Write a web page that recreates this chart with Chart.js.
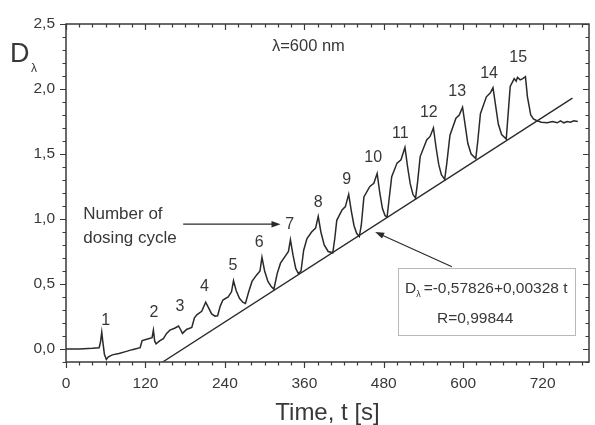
<!DOCTYPE html>
<html>
<head>
<meta charset="utf-8">
<script src="https://cdn.jsdelivr.net/npm/chart.js@4.4.1/dist/chart.umd.min.js"></script>
<style>
  html, body { margin: 0; padding: 0; background: #fff; }
  #grafico { display: block; }
</style>
</head>
<body>
<canvas id="grafico" width="595" height="425"></canvas>
<script>
// Curva medida: tiempo (s) y densidad óptica D (lambda = 600 nm)
const tiempo = [
    0, 20, 40, 50, 52, 54, 55.5, 58, 61, 64, 70, 80, 90, 100, 112, 115, 122, 130, 132, 134,
    136, 142, 147, 152, 157, 164, 170, 173, 176, 182, 190, 194, 198, 205, 211, 215, 220, 225, 229, 233,
    237, 245, 250, 253, 257, 262, 267, 271, 276, 281, 288, 293, 296, 300, 305, 310, 314, 319, 324, 332,
    336, 339, 343, 347, 351, 355, 359, 364, 371, 377, 381, 385, 390, 396, 403, 406, 409, 417, 422, 427,
    431, 435, 439, 443, 446, 450, 459, 465, 470, 474, 478, 482, 485, 488, 492, 500, 506, 512, 516, 520,
    524, 528, 531, 535, 545, 550, 555, 559, 563, 567, 572, 575, 580, 589, 594, 599, 603, 607, 612, 619,
    622, 626, 635, 641, 645, 649, 653, 658, 665, 667, 671, 677, 680, 682, 686, 690, 694, 697, 702, 706,
    710, 718, 727, 735, 742, 747, 752, 757, 762, 767, 773
];
const densidad = [
    0.0, 0.0, 0.005, 0.01, 0.05, 0.13, 0.06, -0.04, -0.08, -0.06, -0.045, -0.035, -0.02, -0.005, 0.01, 0.065, 0.075, 0.087, 0.145, 0.06,
    0.04, 0.065, 0.08, 0.12, 0.145, 0.16, 0.177, 0.15, 0.12, 0.15, 0.165, 0.24, 0.265, 0.29, 0.36, 0.32, 0.27, 0.253, 0.256, 0.33,
    0.377, 0.40, 0.44, 0.525, 0.45, 0.39, 0.36, 0.35, 0.44, 0.52, 0.57, 0.60, 0.705, 0.60, 0.52, 0.48, 0.46, 0.58, 0.66, 0.72,
    0.75, 0.84, 0.72, 0.62, 0.58, 0.60, 0.76, 0.85, 0.90, 0.93, 1.02, 0.90, 0.80, 0.75, 0.74, 0.85, 0.99, 1.07, 1.095, 1.19,
    1.06, 0.95, 0.89, 0.865, 0.95, 1.17, 1.25, 1.275, 1.35, 1.20, 1.08, 1.025, 1.015, 1.15, 1.325, 1.43, 1.455, 1.55, 1.40, 1.27,
    1.19, 1.16, 1.28, 1.48, 1.61, 1.635, 1.70, 1.55, 1.42, 1.34, 1.305, 1.42, 1.645, 1.775, 1.80, 1.86, 1.72, 1.58, 1.50, 1.465,
    1.60, 1.81, 1.94, 1.97, 2.01, 1.87, 1.73, 1.65, 1.615, 1.75, 2.02, 2.08, 2.06, 2.09, 2.07, 2.08, 2.095, 1.94, 1.80, 1.77,
    1.76, 1.745, 1.74, 1.75, 1.74, 1.755, 1.74, 1.75, 1.745, 1.755, 1.75
];

// Recta de ajuste lineal (extremos)
const ajusteT = [146, 765];
const ajusteD = [-0.1, 1.93];

// Número de ciclo de dosificación y posición de cada etiqueta
const ciclos = ['1', '2', '3', '4', '5', '6', '7', '8', '9', '10', '11', '12', '13', '14', '15'];
const cicloT = [60, 133, 172, 209, 252, 292, 338, 381, 424, 464, 505, 548, 591, 639, 683];
const cicloD = [0.22, 0.28, 0.325, 0.48, 0.645, 0.82, 0.96, 1.13, 1.305, 1.47, 1.66, 1.82, 1.98, 2.12, 2.24];

// Marcas de los ejes
const ticksX = [0, 120, 240, 360, 480, 600, 720];
const ticksY = [0, 0.5, 1.0, 1.5, 2.0, 2.5];

const FUENTE = '"Liberation Sans", Arial, sans-serif';
const TINTA = '#2a2a2a';
const TEXTO = '#383838';

function flecha(ctx, x1, y1, x2, y2) {
    const ang = Math.atan2(y2 - y1, x2 - x1);
    const largo = 9, ancho = 3.2;
    ctx.beginPath();
    ctx.moveTo(x1, y1);
    ctx.lineTo(x2 - Math.cos(ang) * largo * 0.8, y2 - Math.sin(ang) * largo * 0.8);
    ctx.stroke();
    ctx.beginPath();
    ctx.moveTo(x2, y2);
    ctx.lineTo(x2 - Math.cos(ang) * largo - Math.sin(ang) * ancho, y2 - Math.sin(ang) * largo + Math.cos(ang) * ancho);
    ctx.lineTo(x2 - Math.cos(ang) * largo + Math.sin(ang) * ancho, y2 - Math.sin(ang) * largo - Math.cos(ang) * ancho);
    ctx.closePath();
    ctx.fill();
}

// Marco, marcas menores y anotaciones
const marco = {
    id: 'marco',
    afterDraw(chart) {
        const ctx = chart.ctx;
        const a = chart.chartArea;
        const sx = chart.scales.x, sy = chart.scales.y;
        ctx.save();
        ctx.strokeStyle = '#3a3a3a';
        ctx.fillStyle = TINTA;
        ctx.lineWidth = 1.5;
        ctx.strokeRect(a.left, a.top, a.right - a.left, a.bottom - a.top);

        ctx.lineWidth = 1.2;
        ctx.beginPath();
        for (let v = 0; v <= 780; v += 20) {
            const x = Math.round(sx.getPixelForValue(v)) + 0.5;
            const l = v % 120 === 0 ? 6 : 3.5;
            ctx.moveTo(x, a.bottom); ctx.lineTo(x, a.bottom + l);
            ctx.moveTo(x, a.top); ctx.lineTo(x, a.top + l);
        }
        for (let k = -1; k <= 25; k++) {
            const y = Math.round(sy.getPixelForValue(k / 10)) + 0.5;
            const l = k % 5 === 0 ? 6 : 3.5;
            ctx.moveTo(a.left, y); ctx.lineTo(a.left - l, y);
            ctx.moveTo(a.right, y); ctx.lineTo(a.right - l, y);
        }
        ctx.stroke();

        // números de ciclo
        ctx.fillStyle = TEXTO;
        ctx.font = '16px ' + FUENTE;
        ctx.textAlign = 'center';
        ctx.textBaseline = 'middle';
        ciclos.forEach((c, i) => {
            ctx.fillText(c, sx.getPixelForValue(cicloT[i]), sy.getPixelForValue(cicloD[i]));
        });

        ctx.textAlign = 'left';
        ctx.font = '16.5px ' + FUENTE;
        ctx.fillText('\u03bb=600 nm', sx.getPixelForValue(311), sy.getPixelForValue(2.33));
        ctx.font = '17px ' + FUENTE;
        ctx.fillText('Number of', sx.getPixelForValue(26), sy.getPixelForValue(1.035));
        ctx.fillText('dosing cycle', sx.getPixelForValue(26), sy.getPixelForValue(0.855));

        ctx.strokeStyle = TINTA;
        ctx.fillStyle = TINTA;
        ctx.lineWidth = 1.2;
        flecha(ctx, sx.getPixelForValue(177), sy.getPixelForValue(0.96),
                    sx.getPixelForValue(324), sy.getPixelForValue(0.96));
        flecha(ctx, sx.getPixelForValue(583), sy.getPixelForValue(0.633),
                    sx.getPixelForValue(467), sy.getPixelForValue(0.90));

        // cuadro de la ecuación
        const bx1 = sx.getPixelForValue(501), bx2 = sx.getPixelForValue(768);
        const by1 = sy.getPixelForValue(0.623), by2 = sy.getPixelForValue(0.108);
        ctx.fillStyle = '#fff';
        ctx.fillRect(bx1, by1, bx2 - bx1, by2 - by1);
        ctx.strokeStyle = '#b8b8b8';
        ctx.lineWidth = 1;
        ctx.strokeRect(Math.round(bx1) + 0.5, Math.round(by1) + 0.5, Math.round(bx2 - bx1), Math.round(by2 - by1));

        ctx.fillStyle = TEXTO;
        ctx.textBaseline = 'alphabetic';
        const y1 = sy.getPixelForValue(0.47) + 5.5;
        let x = sx.getPixelForValue(512);
        ctx.font = '15.5px ' + FUENTE;
        ctx.fillText('D', x, y1);
        x += ctx.measureText('D').width;
        ctx.font = '9px ' + FUENTE;
        ctx.fillText('\u03bb', x, y1 + 4);
        x += ctx.measureText('\u03bb').width + 3;
        ctx.font = '15.5px ' + FUENTE;
        ctx.fillText('=-0,57826+0,00328 t', x, y1);
        ctx.textAlign = 'center';
        ctx.fillText('R=0,99844', sx.getPixelForValue(618), sy.getPixelForValue(0.24) + 5.5);

        // títulos de ejes
        ctx.textAlign = 'left';
        ctx.font = '27px ' + FUENTE;
        ctx.fillText('D', 10, 62);
        ctx.font = '12px ' + FUENTE;
        ctx.fillText('\u03bb', 31, 72);
        ctx.textAlign = 'center';
        ctx.font = '24px ' + FUENTE;
        ctx.fillText('Time, t [s]', (a.left + a.right) / 2, 420);
        ctx.restore();
    }
};

const ctx = document.getElementById('grafico');
new Chart(ctx, {
    type: 'line',
    data: {
        datasets: [{
            data: tiempo.map((t, i) => ({ x: t, y: densidad[i] })),
            borderColor: TINTA,
            borderWidth: 1.5,
            pointRadius: 0,
            tension: 0
        }, {
            data: ajusteT.map((t, i) => ({ x: t, y: ajusteD[i] })),
            borderColor: TINTA,
            borderWidth: 1.4,
            pointRadius: 0
        }]
    },
    options: {
        responsive: false,
        animation: false,
        devicePixelRatio: 1,
        layout: { padding: { top: 24, right: 6, left: 0, bottom: 0 } },
        plugins: { legend: { display: false }, tooltip: { enabled: false } },
        scales: {
            x: {
                type: 'linear',
                min: 0,
                max: 790,
                afterBuildTicks: s => { s.ticks = ticksX.map(v => ({ value: v })); },
                afterFit: s => { s.height = 63; },
                grid: { display: false, drawTicks: false },
                border: { display: false },
                ticks: {
                    font: { family: FUENTE, size: 15.5 },
                    color: TEXTO,
                    padding: 12,
                    maxRotation: 0,
                    autoSkip: false
                }
            },
            y: {
                type: 'linear',
                min: -0.1,
                max: 2.5,
                afterBuildTicks: s => { s.ticks = ticksY.map(v => ({ value: v })); },
                afterFit: s => { s.width = 66; },
                grid: { display: false, drawTicks: false },
                border: { display: false },
                ticks: {
                    font: { family: FUENTE, size: 15.5 },
                    color: TEXTO,
                    padding: 11,
                    callback: v => v.toFixed(1).replace('.', ',')
                }
            }
        }
    },
    plugins: [marco]
});
</script>
</body>
</html>
